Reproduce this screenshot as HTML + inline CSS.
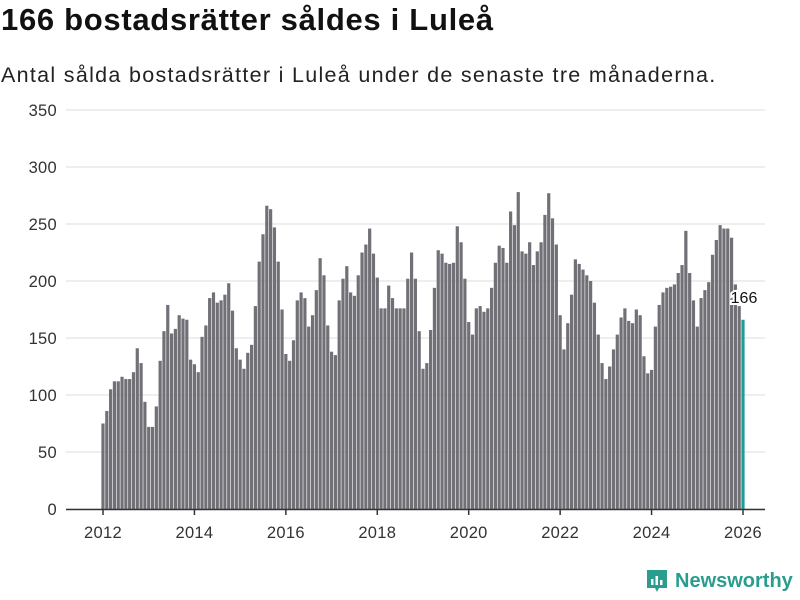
<!DOCTYPE html>
<html><head><meta charset="utf-8"><style>
body{margin:0;width:800px;height:600px;background:#fff;font-family:"Liberation Sans",sans-serif;overflow:hidden;position:relative}
h1{position:absolute;left:1px;top:2px;margin:0;font-size:31px;font-weight:bold;color:#111;letter-spacing:0.7px}
.sub{position:absolute;left:1px;top:63px;font-size:21.5px;color:#222;letter-spacing:1.3px}
.logo{position:absolute;left:645px;top:568px;display:flex;align-items:center;gap:6px;color:#2a9d8f;font-weight:bold;font-size:20px}
</style></head><body>
<h1>166 bostadsrätter såldes i Luleå</h1>
<div class="sub">Antal sålda bostadsrätter i Luleå under de senaste tre månaderna.</div>
<svg id="chart" width="800" height="600" style="position:absolute;left:0;top:0"></svg>
<div class="logo"><svg width="24" height="26" viewBox="0 0 24 26"><path d="M2 2h20v18h-8l-2 4-2-4H2z" fill="#2a9d8f"/><rect x="6" y="11" width="2.5" height="6" fill="#fff"/><rect x="10.5" y="8" width="2.5" height="9" fill="#fff"/><rect x="15" y="12" width="2.5" height="5" fill="#fff"/></svg><span>Newsworthy</span></div>
<script>
const values=[75,86,105,112,112,116,114,114,120,141,128,94,
72,72,90,130,156,179,154,158,170,167,166,131,
127,120,151,161,185,190,181,183,188,198,174,141,
131,123,137,144,178,217,241,266,263,247,217,175,
136,130,148,183,190,185,160,170,192,220,205,161,
138,135,183,202,213,190,187,205,225,232,246,224,
203,176,176,196,185,176,176,176,202,225,202,156,
123,128,157,194,227,224,216,215,216,248,234,202,
164,153,176,178,173,176,194,216,231,229,216,261,
249,278,226,224,234,214,226,234,258,277,255,232,
170,140,163,188,219,215,210,205,200,181,153,128,
114,125,140,153,168,176,165,163,175,170,134,119,
122,160,179,190,194,195,197,207,214,244,207,183,
160,185,192,199,223,236,249,246,246,238,197,178,
166];
const yTicks=[0,50,100,150,200,250,300,350];
const xTicks=[2012,2014,2016,2018,2020,2022,2024,2026];
const startYear=2012;
const svg=document.getElementById('chart');const NS='http://www.w3.org/2000/svg';
const x=t=>103+(t-2012)*(640/14);
const y=v=>509-v*(399/350);
function mk(tag,attrs){const e=document.createElementNS(NS,tag);for(const k in attrs)e.setAttribute(k,attrs[k]);svg.appendChild(e);return e;}
yTicks.forEach(v=>{
 const l=mk('line',{x1:66,x2:765,y1:y(v),y2:y(v),stroke:'#dedede','stroke-width':1});
 
 
 const t=mk('text',{x:57,y:y(v)+6,'text-anchor':'end','font-size':16.5,fill:'#333','letter-spacing':0.3});
 t.textContent=v;
 
 
});
values.forEach((v,i)=>{
 const last=i===values.length-1;
 const cx=x(startYear+i/12);
 const r=mk('rect',{x:cx-1.6,y:y(v),width:3.2,height:y(0)-y(v),fill:last?'#1a9e97':'#717077'});
 
 
});
const ax=mk('line',{x1:66,x2:765,y1:509.5,y2:509.5,stroke:'#333','stroke-width':1.5});


xTicks.forEach(yr=>{
 const tk=mk('line',{x1:x(yr),x2:x(yr),y1:509,y2:515,stroke:'#333','stroke-width':1.5});
 
 
 const t=mk('text',{x:x(yr),y:538,'text-anchor':'middle','font-size':16.5,fill:'#333','letter-spacing':0.3});
 t.textContent=yr;
 
 
});
const lv=values[values.length-1];
const lab=mk('text',{x:x(startYear+(values.length-1)/12)+1,y:y(lv)-17,'text-anchor':'middle','font-size':16,fill:'#111',stroke:'#fff','stroke-width':4,'paint-order':'stroke'});
lab.textContent=lv;


</script>
</body></html>
